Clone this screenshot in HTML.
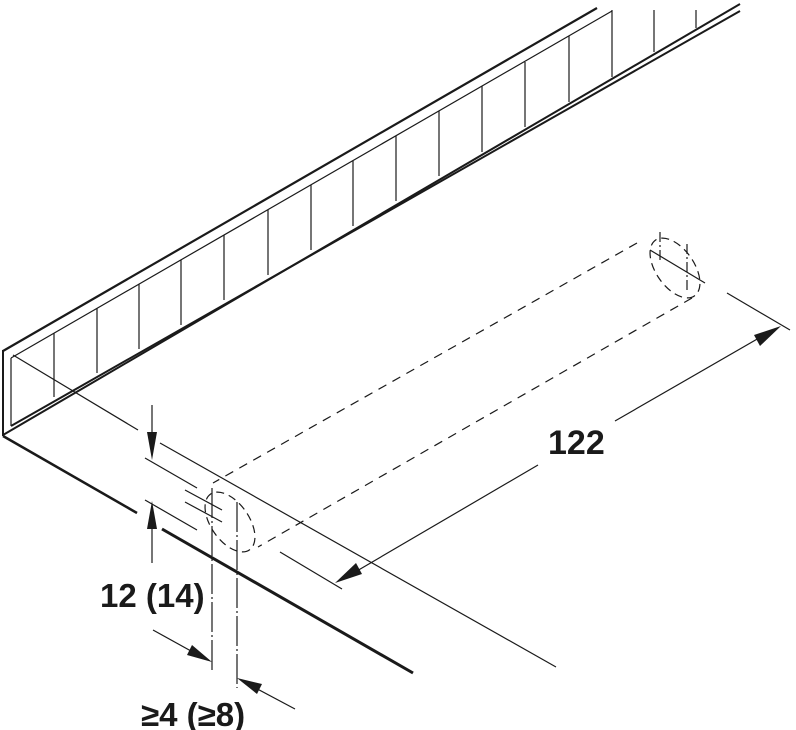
<!DOCTYPE html>
<html><head><meta charset="utf-8"><style>
html,body{margin:0;padding:0;background:#fff;}
svg{display:block;}
text{font-family:"Liberation Sans",Arial,sans-serif;font-weight:bold;fill:#1a1a1a;}
</style></head><body>
<svg width="796" height="730" viewBox="0 0 796 730" xmlns="http://www.w3.org/2000/svg">
<g stroke="#1a1a1a" fill="none" stroke-linecap="butt">
<line x1="3" y1="350" x2="3" y2="436" stroke-width="2"/>
<line x1="3" y1="351" x2="597" y2="8" stroke-width="2.2"/>
<line x1="11" y1="358" x2="612" y2="11" stroke-width="1.2"/>
<line x1="11" y1="358" x2="11" y2="426" stroke-width="1.2"/>
<line x1="11" y1="426" x2="740" y2="11" stroke-width="2"/>
<line x1="3" y1="435" x2="740" y2="4" stroke-width="2"/>
<line x1="612" y1="10" x2="612" y2="77" stroke-width="1.2"/>
<g stroke-width="1.2">
<line x1="54" y1="333" x2="54" y2="397"/>
<line x1="97" y1="308" x2="97" y2="373"/>
<line x1="139" y1="284" x2="139" y2="349"/>
<line x1="181" y1="260" x2="181" y2="325"/>
<line x1="224" y1="235" x2="224" y2="300"/>
<line x1="268" y1="210" x2="268" y2="275"/>
<line x1="311" y1="185" x2="311" y2="250"/>
<line x1="353" y1="161" x2="353" y2="226"/>
<line x1="396" y1="136" x2="396" y2="201"/>
<line x1="439" y1="111" x2="439" y2="176"/>
<line x1="482" y1="86" x2="482" y2="152"/>
<line x1="525" y1="62" x2="525" y2="127"/>
<line x1="569" y1="36" x2="569" y2="102"/>
<line x1="654" y1="10" x2="654" y2="52"/>
<line x1="696" y1="10" x2="696" y2="28"/>
</g>
<line x1="3" y1="436" x2="137" y2="513" stroke-width="2.5"/>
<line x1="162" y1="529" x2="413" y2="673" stroke-width="3"/>
<line x1="13" y1="355" x2="138" y2="430" stroke-width="1.2"/>
<line x1="160" y1="443" x2="556" y2="667" stroke-width="1.2"/>
<line x1="637" y1="243" x2="213" y2="483" stroke-width="1.2" stroke-dasharray="9,7"/>
<line x1="692" y1="298" x2="258" y2="547" stroke-width="1.2" stroke-dasharray="9,7"/>
<ellipse cx="230" cy="522" rx="34" ry="19" transform="rotate(55 230 522)" stroke-width="1.2" stroke-dasharray="8,5"/>
<ellipse cx="675" cy="268" rx="34" ry="19" transform="rotate(55 675 268)" stroke-width="1.2" stroke-dasharray="8,5"/>
<line x1="212" y1="488" x2="212" y2="673" stroke-width="1.2" stroke-dasharray="30,3,2,3"/>
<line x1="237" y1="502" x2="237" y2="688" stroke-width="1.2" stroke-dasharray="30,3,2,3"/>
<line x1="660" y1="232" x2="660" y2="262" stroke-width="1.2" stroke-dasharray="10,3,2,3"/>
<line x1="687" y1="244" x2="687" y2="290" stroke-width="1.2" stroke-dasharray="10,3,2,3"/>
<line x1="185" y1="490" x2="222" y2="510" stroke-width="1.2"/>
<line x1="185" y1="502" x2="222" y2="522" stroke-width="1.2"/>
<line x1="650" y1="250" x2="705" y2="283" stroke-width="1.2"/>
<line x1="145" y1="458" x2="197" y2="488" stroke-width="1.2"/>
<line x1="145" y1="500" x2="197" y2="530" stroke-width="1.2"/>
<line x1="152" y1="405" x2="152" y2="445" stroke-width="1.2"/>
<line x1="152" y1="515" x2="152" y2="563" stroke-width="1.2"/>
<line x1="153" y1="630" x2="200" y2="656" stroke-width="1.2"/>
<line x1="295" y1="709" x2="250" y2="685" stroke-width="1.2"/>
<line x1="280" y1="552" x2="342" y2="589" stroke-width="1.2"/>
<line x1="727" y1="293" x2="790" y2="330" stroke-width="1.2"/>
<line x1="350" y1="575" x2="538" y2="465" stroke-width="1.2"/>
<line x1="615" y1="421" x2="766" y2="334" stroke-width="1.2"/>
</g>
<g fill="#1a1a1a">
<polygon points="152,460 147,432 157,432"/>
<polygon points="152,501 147,529 157,529"/>
<polygon points="212,662 187,655 192,645"/>
<polygon points="237,678 262,684 257,694"/>
<polygon points="335,583 356,563 362,574"/>
<polygon points="781,326 760,346 754,335"/>
</g>
<text x="100" y="607" font-size="33">12 (14)</text>
<text x="141" y="726" font-size="33">≥4 (≥8)</text>
<text x="548" y="454" font-size="34">122</text>
</svg>
</body></html>
